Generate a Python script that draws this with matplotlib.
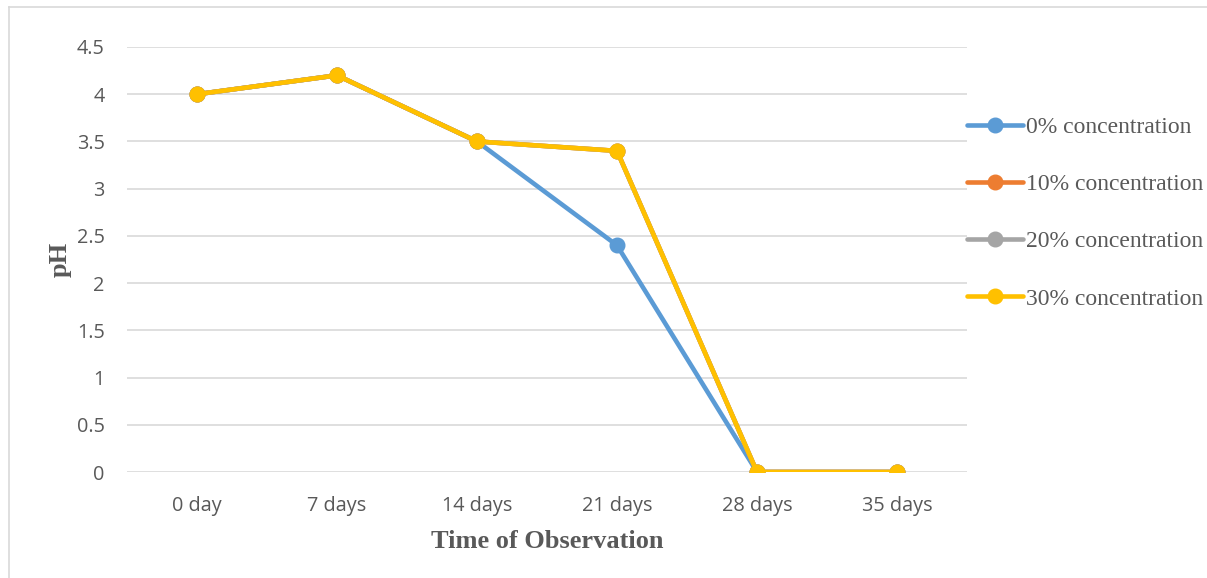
import matplotlib
matplotlib.use("Agg")
import matplotlib.pyplot as plt
from matplotlib.lines import Line2D

days = ["0 day", "7 days", "14 days", "21 days", "28 days", "35 days"]
ph_0 = [4.0, 4.2, 3.5, 2.4, 0.0, 0.0]
ph_10 = [4.0, 4.2, 3.5, 3.4, 0.0, 0.0]
ph_20 = [4.0, 4.2, 3.5, 3.4, 0.0, 0.0]
ph_30 = [4.0, 4.2, 3.5, 3.4, 0.0, 0.0]
series_names = ["0% concentration", "10% concentration", "20% concentration", "30% concentration"]
series_colors = ["#5B9BD5", "#ED7D31", "#A5A5A5", "#FFC000"]
y_ticks = [0, 0.5, 1, 1.5, 2, 2.5, 3, 3.5, 4, 4.5]

W, H = 1207, 578
fig = plt.figure(figsize=(W / 100, H / 100), dpi=100)
fig.patch.set_facecolor("white")

# light chart frame (top and left edges visible)
fig.add_artist(Line2D([8.5 / W, 8.5 / W], [0, 1 - 7 / H], transform=fig.transFigure,
                      color="#d9d9d9", lw=1.2))
fig.add_artist(Line2D([8.5 / W, 1], [1 - 7 / H, 1 - 7 / H], transform=fig.transFigure,
                      color="#d9d9d9", lw=1.2))

left, right = 127 / W, 967 / W
bottom, top = 1 - 472 / H, 1 - 47 / H
ax = fig.add_axes([left, bottom, right - left, top - bottom])

x = list(range(len(days)))
for vals, name, col in zip([ph_0, ph_10, ph_20, ph_30], series_names, series_colors):
    ax.plot(x, vals, color=col, lw=3.3, marker="o", markersize=10.5,
            solid_capstyle="round", label=name, zorder=3)

ax.set_xlim(-0.5, len(days) - 0.5)
ax.set_ylim(0, 4.5)
ax.set_yticks(y_ticks)
ax.set_yticklabels([f"{v:g}" for v in y_ticks])
ax.set_xticks(x)
ax.set_xticklabels(days)
ax.grid(axis="y", color="#d9d9d9", lw=1.2, zorder=0)
ax.set_axisbelow(True)
for s in ax.spines.values():
    s.set_visible(False)
ax.tick_params(axis="both", length=0, labelsize=14.3, labelcolor="#595959")
ax.tick_params(axis="y", pad=16)
ax.tick_params(axis="x", pad=17.5)
for lab in ax.get_xticklabels() + ax.get_yticklabels():
    lab.set_fontfamily("Open Sans")

ax.set_xlabel("Time of Observation", fontfamily="Liberation Serif", fontweight="bold",
              fontsize=19, color="#595959", labelpad=10)
ax.set_ylabel("pH", fontfamily="Liberation Serif", fontweight="bold",
              fontsize=19, color="#595959", labelpad=4)

leg = fig.legend(loc="upper left", bbox_to_anchor=(958 / W, 1 - 107 / H),
                 frameon=False, handlelength=2.35, handletextpad=0.12,
                 labelspacing=1.51, borderaxespad=0,
                 prop={"family": "Liberation Serif", "size": 17})
for t in leg.get_texts():
    t.set_color("#595959")

fig.savefig("out.png", dpi=100, facecolor="white")
